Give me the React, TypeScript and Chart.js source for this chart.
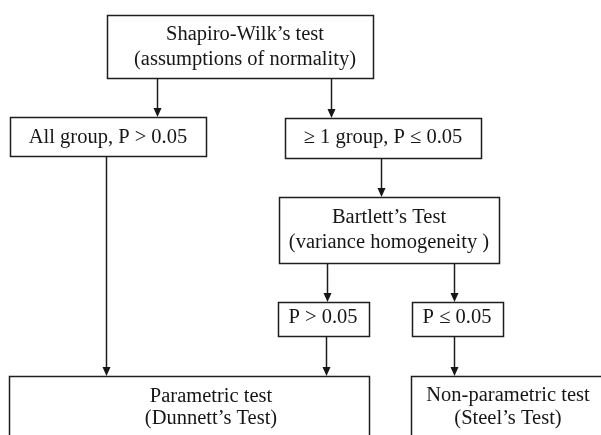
import React, { useEffect, useRef } from "react";
import { Chart, registerables } from "chart.js";

Chart.register(...registerables);

// Flowchart nodes (diagram units: x 0..601, y 0..435 top-down)
const nodeLines: string[][] = [
  ["Shapiro-Wilk\u2019s test", "(assumptions of normality)"],
  ["All group, P > 0.05"],
  ["\u2265 1 group, P \u2264 0.05"],
  ["Bartlett\u2019s Test", "(variance homogeneity )"],
  ["P > 0.05"],
  ["P \u2264 0.05"],
  ["Parametric test", "(Dunnett\u2019s Test)"],
  ["Non-parametric test", "(Steel\u2019s Test)"],
];
const nodeLeft = [107, 10, 285, 279, 278, 412, 9, 411];
const nodeRight = [373, 206, 481, 499, 369, 503, 369, 640];
const nodeTop = [15, 117, 118, 197, 302, 302, 376, 376];
const nodeBottom = [78, 156, 158, 263, 336, 336, 480, 480];
const textX = [245, 108, 383, 389, 323, 457, 211, 508];
const textY: number[][] = [
  [35, 60],
  [138],
  [138],
  [218, 243],
  [318],
  [318],
  [397, 419],
  [396, 419],
];

// Arrows
const arrowX = [157, 331, 381, 327, 454, 106, 326, 454];
const arrowFrom = [78, 78, 158, 263, 263, 156, 336, 336];
const arrowTo = [117, 118, 197, 302, 302, 376, 376, 376];

const flowPlugin = {
  id: "flow",
  afterDraw(chart: any) {
    const { ctx, scales } = chart;
    const sx = scales.x;
    const sy = scales.y;
    const px = (v: number) => sx.getPixelForValue(v);
    const py = (v: number) => sy.getPixelForValue(v);
    ctx.save();
    ctx.fillStyle = "#ffffff";
    ctx.fillRect(0, 0, chart.width, chart.height);
    ctx.strokeStyle = "#1e1e1e";
    ctx.lineWidth = 1.5;
    for (let i = 0; i < nodeLines.length; i++) {
      const x0 = Math.round(px(nodeLeft[i])) + 0.5;
      const x1 = Math.round(px(nodeRight[i])) + 0.5;
      const y0 = Math.round(py(nodeTop[i])) + 0.5;
      const y1 = Math.round(py(nodeBottom[i])) + 0.5;
      ctx.strokeRect(x0, y0, x1 - x0, y1 - y0);
    }
    ctx.fillStyle = "#161616";
    ctx.font = '20.5px "Liberation Serif", "Times New Roman", serif';
    ctx.textAlign = "center";
    ctx.textBaseline = "middle";
    for (let i = 0; i < nodeLines.length; i++) {
      nodeLines[i].forEach((t, j) => {
        ctx.fillText(t, px(textX[i]), py(textY[i][j]));
      });
    }
    for (let i = 0; i < arrowX.length; i++) {
      const x = Math.round(px(arrowX[i])) + 0.5;
      const ya = py(arrowFrom[i]);
      const yb = py(arrowTo[i]);
      ctx.beginPath();
      ctx.moveTo(x, ya);
      ctx.lineTo(x, yb - 8);
      ctx.stroke();
      ctx.beginPath();
      ctx.moveTo(x - 4, yb - 9);
      ctx.lineTo(x + 4, yb - 9);
      ctx.lineTo(x, yb);
      ctx.closePath();
      ctx.fill();
    }
    ctx.restore();
  },
};

export default function App() {
  const ref = useRef<HTMLCanvasElement>(null);
  useEffect(() => {
    document.body.style.margin = "0";
    const chart = new Chart(ref.current!, {
      type: "scatter",
      data: { datasets: [{ data: [], pointRadius: 0 }] },
      options: {
        animation: false,
        responsive: false,
        events: [],
        layout: { padding: 0 },
        plugins: { legend: { display: false }, tooltip: { enabled: false } },
        scales: {
          x: { type: "linear", min: 0, max: 601, display: false },
          y: { type: "linear", min: 0, max: 435, reverse: true, display: false },
        },
      },
      plugins: [flowPlugin],
    });
    return () => chart.destroy();
  }, []);
  return (
    <div style={{ width: 601, height: 435, background: "#fff" }}>
      <canvas ref={ref} width={601} height={435} />
    </div>
  );
}
